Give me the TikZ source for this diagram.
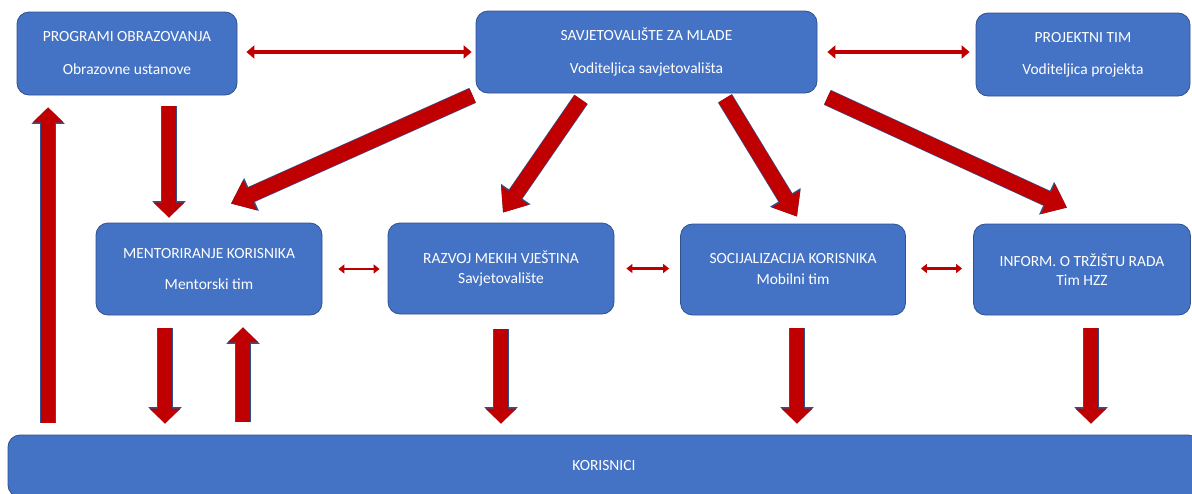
\documentclass[tikz,border=0pt]{standalone}
\usepackage{fontspec}
\setmainfont{Carlito}
\usetikzlibrary{arrows.meta}
\definecolor{boxblue}{HTML}{4472C4}
\definecolor{boxedge}{HTML}{2F528F}
\definecolor{arrred}{HTML}{C00000}

\begin{document}
\begin{tikzpicture}[x=1pt,y=-1pt,
	box/.style={draw=boxedge,fill=boxblue,line width=0.8pt,rounded corners=12pt,text=white,align=center,inner sep=0pt,font=\fontsize{15.5}{18}\selectfont},
	fat/.style={draw=arrred,line width=14pt,-{Triangle[length=15pt,width=30pt]},preaction={draw=boxedge,line width=15.4pt,-{Triangle[length=16.5pt,width=32.5pt]}}},
	fatdiag/.style={draw=arrred,line width=15pt,-{Triangle[length=21pt,width=32pt]},preaction={draw=boxedge,line width=16.4pt,-{Triangle[length=22.5pt,width=34.5pt]}}},
	thin/.style={draw=arrred,line width=4pt,{Triangle[length=8pt,width=13pt]}-{Triangle[length=8pt,width=13pt]}},
	small/.style={draw=arrred,line width=2.5pt,{Triangle[length=6pt,width=9pt]}-{Triangle[length=6pt,width=9pt]}}]
	\useasboundingbox (0,0) rectangle (1192,493);

	% top row
	\node[box,minimum width=220pt,minimum height=83pt] (prog) at (127,53.5) {PROGRAMI OBRAZOVANJA\\[15pt]Obrazovne ustanove};
	\node[box,minimum width=341pt,minimum height=82pt] (savj) at (646.5,52) {SAVJETOVALIŠTE ZA MLADE\\[15pt]Voditeljica savjetovališta};
	\node[box,minimum width=214pt,minimum height=83pt] (proj) at (1083,54.5) {PROJEKTNI TIM\\[14pt]Voditeljica projekta};

	% middle row
	\node[box,minimum width=226pt,minimum height=92pt] (ment) at (209,269) {MENTORIRANJE KORISNIKA\\[13pt]Mentorski tim};
	\node[box,minimum width=226pt,minimum height=91pt] (razv) at (501,268.5) {RAZVOJ MEKIH VJEŠTINA\\[2pt]Savjetovalište};
	\node[box,minimum width=225pt,minimum height=91pt] (soci) at (793,269.5) {SOCIJALIZACIJA KORISNIKA\\[3pt]Mobilni tim};
	\node[box,minimum width=217pt,minimum height=91pt] (info) at (1082,269.5) {INFORM. O TRŽIŠTU RADA\\[1pt]Tim HZZ};

	% bottom
	\node[box,minimum width=1192pt,minimum height=62pt] (kor) at (604,466) {KORISNICI};

	% thin arrows
	\draw[thin] ([xshift=9pt]prog.east |- savj.west) -- ([xshift=-4pt]savj.west);
	\draw[thin] ([xshift=10pt]savj.east) -- ([xshift=-6pt]savj.east -| proj.west);
	\draw[small] ([xshift=16pt]ment.east) -- ([xshift=-8pt]ment.east -| razv.west);
	\draw[small] ([xshift=12pt]razv.east) -- ([xshift=-11pt]razv.east -| soci.west);
	\draw[small] ([xshift=15pt,yshift=1pt]soci.east) -- ([xshift=-11pt,yshift=1pt]soci.east -| info.west);

	% from savjetovaliste
	\draw[fatdiag] ([xshift=-3pt,yshift=-2pt]savj.south west) -- ([xshift=22pt,yshift=19pt]ment.north);
	\draw[fatdiag] ([xshift=-65.5pt,yshift=-6pt]savj.south) -- ([xshift=2pt,yshift=10pt]razv.north);
	\draw[fatdiag] ([xshift=78.5pt,yshift=-5pt]savj.south) -- ([xshift=4pt,yshift=7pt]soci.north);
	\draw[fatdiag] ([xshift=10pt,yshift=-4pt]savj.south east) -- ([xshift=-15pt,yshift=16pt]info.north);

	% vertical
	\draw[fat] ([xshift=42pt,yshift=-11pt]prog.south) -- ([xshift=-40pt,yshift=5pt]ment.north);
	\draw[fat] ([xshift=40.5pt,yshift=12pt]kor.north west) -- ([xshift=31.5pt,yshift=-12pt]prog.south west);
	\draw[fat] ([xshift=-44pt,yshift=-13pt]ment.south) -- ([xshift=-44pt,yshift=11pt]ment.south |- kor.north);
	\draw[fat] ([xshift=34pt,yshift=13pt]ment.south |- kor.north) -- ([xshift=34pt,yshift=-12pt]ment.south);
	\draw[fat] ([yshift=-15pt]razv.south) -- ([yshift=11pt]razv.south |- kor.north);
	\draw[fat] ([xshift=4pt,yshift=-13pt]soci.south) -- ([xshift=4pt,yshift=11pt]soci.south |- kor.north);
	\draw[fat] ([xshift=9pt,yshift=-13pt]info.south) -- ([xshift=9pt,yshift=11pt]info.south |- kor.north);
\end{tikzpicture}
\end{document}
